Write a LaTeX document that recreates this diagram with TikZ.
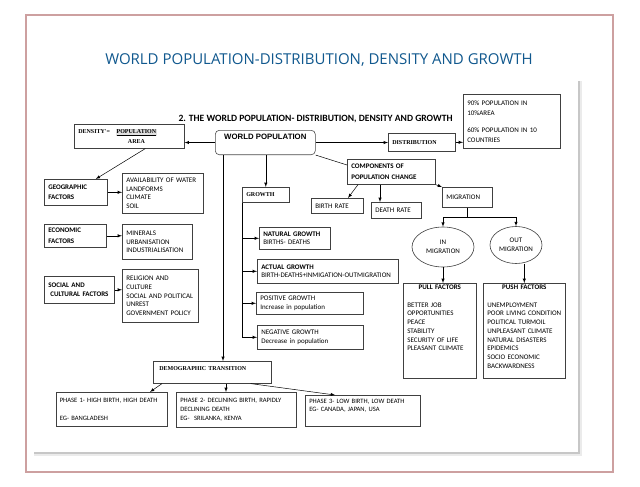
\documentclass[tikz,border=0pt]{standalone}
\usepackage{fontspec}
\setmainfont{Carlito}
\newfontfamily\titlefont{Open Sans}
\newfontfamily\boxserif{Liberation Serif}
\newfontfamily\wpfont{Liberation Sans}
\usepackage{tikz}
\usetikzlibrary{positioning,shapes.geometric}
\definecolor{frameRose}{RGB}{205,160,160}
\definecolor{titleBlue}{RGB}{16,88,142}

\begin{document}
\begin{tikzpicture}[x=1pt, y=-1pt, >=latex,
        box/.style={draw=black!75, line width=0.6pt, anchor=north west, inner xsep=4pt, inner ysep=2pt, align=left, font=\fontsize{7}{8.7}\selectfont},
        head/.style={box, font=\bfseries\fontsize{7}{10.5}\selectfont},
        serifbox/.style={box, font=\boxserif\bfseries\fontsize{6}{10}\selectfont},
        phase/.style={box, font=\fontsize{6.6}{8.7}\selectfont},
        oval/.style={draw=black!75, line width=0.6pt, ellipse, inner sep=0pt, align=center, font=\fontsize{7}{9}\selectfont},
        link/.style={->, line width=0.5pt}]
        \useasboundingbox (0,0) rectangle (640,487);
        %\draw[step=10, gray!30, very thin] (0,0) grid (640,487);
        \fill[white] (0,0) rectangle (640,487);
        \draw[frameRose, line width=2pt] (26,15) rectangle (613,472);
        \fill[black!8] (34,81) rectangle (582,456);
        \fill[black!22] (34,81) rectangle (580,454);
        \fill[white] (33,80) rectangle (578,452);
        \node[font=\titlefont\fontsize{15}{17}\selectfont, text=titleBlue] (title) at (319,60) {WORLD POPULATION-DISTRIBUTION, DENSITY AND GROWTH};
        \node[font=\bfseries\fontsize{9.6}{11}\selectfont, anchor=west] (subtitle) at (175,119) {2. THE WORLD POPULATION- DISTRIBUTION, DENSITY AND GROWTH};

        % top row
        \node[serifbox, text width=102pt, minimum height=24pt] (density) at (74,124) {\begin{tabular}{@{}l@{\hspace{6pt}}c@{}}DENSITY'= & {\fboxsep=0.6pt\colorbox{black!12}{\underline{POPULATION}}}\\ & AREA\end{tabular}};
        \node[draw=black!70, line width=0.6pt, rounded corners=4pt, anchor=north west, minimum width=100pt, inner ysep=3.5pt, text depth=12pt, font=\wpfont\bfseries\fontsize{7.8}{9}\selectfont] (world) at (215,130) {WORLD POPULATION};
        \node[serifbox, text width=59pt, minimum height=18pt] (distrib) at (388,133) {DISTRIBUTION};
        \node[box, text width=89pt, minimum height=54pt, font=\fontsize{7}{10}\selectfont] (share) at (463,94) {90\% POPULATION IN\\10\%AREA\\[7pt]60\% POPULATION IN 10\\COUNTRIES};

        % components of change
        \node[head, text width=80pt, minimum height=25pt] (comp) at (347,159) {COMPONENTS OF\\POPULATION CHANGE};
        \node[box, text width=44pt, minimum height=15pt] (birth) at (311,198) {BIRTH RATE};
        \node[box, text width=42pt, minimum height=16pt] (death) at (371,202) {DEATH RATE};
        \node[box, text width=42pt, minimum height=20pt] (migr) at (442,187) {MIGRATION};
        \node[oval, minimum width=62pt, minimum height=40pt] (inmig) at (443,247) {IN\\MIGRATION};
        \node[oval, minimum width=52pt, minimum height=37pt] (outmig) at (516,245) {OUT\\MIGRATION};
        \node[box, text width=65pt, text depth=86pt] (pull) at (403,283) {\makebox[65pt]{\textbf{PULL FACTORS}}\\[8.7pt]BETTER JOB\\OPPORTUNITIES\\PEACE\\STABILITY\\SECURITY OF LIFE\\PLEASANT CLIMATE};
        \node[box, text width=74pt, text depth=86pt] (push) at (483,283) {\makebox[74pt]{\textbf{PUSH FACTORS}}\\[8.7pt]UNEMPLOYMENT\\POOR LIVING CONDITION\\POLITICAL TURMOIL\\UNPLEASANT CLIMATE\\NATURAL DISASTERS\\EPIDEMICS\\SOCIO ECONOMIC\\BACKWARDNESS};

        % density factors
        \node[head, text width=55pt, minimum height=26pt] (geo) at (44,179) {GEOGRAPHIC\\FACTORS};
        \node[box, text width=73pt, minimum height=40pt] (water) at (122,173) {AVAILABILITY OF WATER\\LANDFORMS\\CLIMATE\\SOIL};
        \node[head, text width=54pt, minimum height=23pt] (econ) at (44,224) {ECONOMIC\\FACTORS};
        \node[box, text width=62pt, minimum height=35pt] (minerals) at (122,224) {MINERALS\\URBANISATION\\INDUSTRIALISATION};
        \node[head, text width=62pt, minimum height=27pt, font=\bfseries\fontsize{7}{9.5}\selectfont] (social) at (44,276) {SOCIAL AND\\\hspace*{2pt}CULTURAL FACTORS};
        \node[box, text width=68pt, minimum height=53pt] (religion) at (122,269) {RELIGION AND\\CULTURE\\SOCIAL AND POLITICAL\\UNREST\\GOVERNMENT POLICY};

        % growth
        \node[serifbox, text width=39pt, minimum height=15pt] (growth) at (242,187) {GROWTH};
        \node[box, text width=63pt, minimum height=22pt] (natural) at (259,227) {\textbf{NATURAL GROWTH}\\BIRTHS- DEATHS};
        \node[box, text width=133pt, minimum height=24pt] (actual) at (257,259) {\textbf{ACTUAL GROWTH}\\\mbox{BIRTH-DEATHS+INMIGATION-OUTMIGRATION}};
        \node[box, text width=99pt, minimum height=22pt] (positive) at (256,292) {POSITIVE GROWTH\\Increase in population};
        \node[box, text width=98pt, minimum height=24pt] (negative) at (257,325) {NEGATIVE GROWTH\\Decrease in population};

        % demographic transition
        \node[serifbox, text width=106pt, inner xsep=6pt, minimum height=22pt, text depth=8pt] (demo) at (153,361) {DEMOGRAPHIC TRANSITION};
        \node[phase, text width=104pt, inner xsep=3.5pt, minimum height=34pt] (phase1) at (56,392) {PHASE 1- HIGH BIRTH, HIGH DEATH\\[8.7pt]EG- BANGLADESH};
        \node[phase, text width=112pt, minimum height=35pt] (phase2) at (176,392) {PHASE 2- DECLINING BIRTH, RAPIDLY\\DECLINING DEATH\\EG-\ \ SRILANKA, KENYA};
        \node[phase, text width=107pt, inner ysep=3.5pt, text depth=20pt] (phase3) at (305,395) {PHASE 3- LOW BIRTH, LOW DEATH\\EG- CANADA, JAPAN, USA};

        % connectors
        \draw[link] (world.west) -- (world.west -| density.east);
        \draw[link] (world.east) -- (world.east -| distrib.west);
        \draw[link] (distrib.east) -- (distrib.east -| share.west);
        \draw[line width=0.5pt] (world.south east) -- ([yshift=-6pt]comp.north west);
        \draw[link] ([xshift=11pt]comp.south west) -- ([xshift=37pt]birth.north west);
        \coordinate (dr) at ([xshift=9pt]death.north west);
        \draw[link] (dr |- comp.south) -- (dr);
        \draw[link] (comp.south east) -- (migr.north west);
        \coordinate (fork) at ([yshift=-10pt]migr.south);
        \draw[line width=0.5pt] (migr.south) -- (fork);
        \draw[link] (fork) -| (inmig.north);
        \draw[link] (fork) -| (outmig.north);
        \draw[link] (inmig.south) -- (inmig.south |- pull.north);
        \draw[link] (push.north |- outmig.south) -- (push.north);

        \draw[link] ([xshift=16pt]density.south) -- ([xshift=20pt]geo.north);
        \draw[link] (geo.east) -- (geo.east -| water.west);
        \draw[link] (econ.east) -- (econ.east -| minerals.west);
        \draw[link] (social.east) -- (social.east -| religion.west);

        \coordinate (trunk) at ([xshift=8pt]world.south west);
        \draw[link] (trunk) -- (trunk |- demo.north);
        \draw[link] (growth.north |- world.south) -- (growth.north);
        \draw[line width=0.5pt] (growth.south west) -- (growth.south west |- negative.west);
        \draw[link] (growth.south west |- natural.west) -- (natural.west);
        \draw[link] (growth.south west |- actual.west) -- (actual.west);
        \draw[link] (growth.south west |- positive.west) -- (positive.west);
        \draw[link] (growth.south west |- negative.west) -- (negative.west);

        \draw[link] ([xshift=9pt]demo.south west) -- ([xshift=94pt]phase1.north west);
        \coordinate (p2) at ([xshift=50pt]phase2.north west);
        \draw[link] (p2 |- demo.south) -- (p2);
        \draw[link] ([xshift=-21pt]demo.south east) -- ([xshift=30pt]phase3.north west);
    \end{tikzpicture}
\end{document}
